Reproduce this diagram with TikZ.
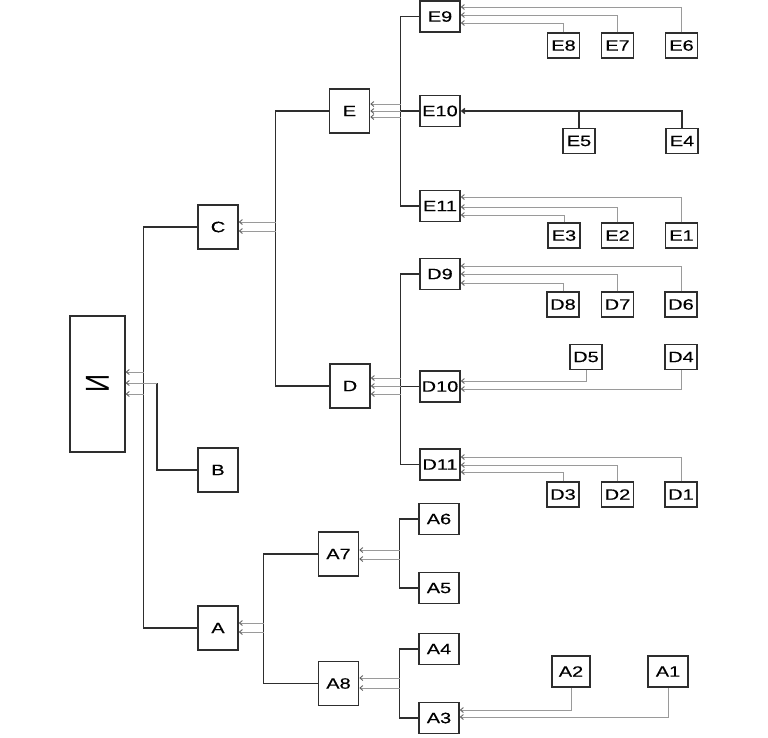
\documentclass[tikz,border=0pt]{standalone}
\usepackage{fontspec}
\setmainfont{Liberation Sans}[FakeStretch=1.33,FakeBold=0.4]
\newfontfamily\rootfont{Liberation Sans}
\usetikzlibrary{arrows.meta}
\definecolor{khung}{HTML}{2E2E2E}
\definecolor{mui}{HTML}{9A9A9A}

\begin{document}
\begin{tikzpicture}[x=1pt,y=-1pt,
    hop/.style={draw=khung,line width=1.5pt,fill=white,inner sep=0pt,
      minimum width=40pt,minimum height=31pt,font=\fontsize{15}{15}\selectfont},
    hoplon/.style={hop,minimum height=44pt},
    hopnho/.style={hop,minimum width=32pt,minimum height=25pt},
    nhanh/.style={draw=khung,line width=1.5pt},
    ve/.style={draw=mui,line width=0.9pt,
      -{Straight Barb[length=3pt,width=5pt,color=khung!75]}},
    vedam/.style={nhanh,-{Straight Barb[length=3pt,width=5pt]}}]
  \useasboundingbox (0,0) rectangle (768,737);
  % goc
  \node[hop,line width=1.2pt,minimum width=55pt,minimum height=136pt] (I) at (97.5,384)
    {\scalebox{1.33}[1]{\rotatebox{90}{\rootfont\fontsize{25}{25}\selectfont И}}};
  \node[hoplon] (C) at (218,227) {C};
  \node[hoplon] (B) at (218,470) {B};
  \node[hoplon] (A) at (218,628) {A};
  \node[hoplon] (E) at (349.5,111) {E};
  \node[hoplon] (D) at (350,386) {D};
  \node[hoplon] (A7) at (338.5,554) {A7};
  \node[hoplon] (A8) at (338.5,683.5) {A8};
  % tang giua
  \foreach \n/\x/\y in {E9/440/16.5,E10/440/111,E11/440/206,D9/440/274,
      D10/440/386.5,D11/440/464.5,A6/439/519,A5/439/588,A4/439/649,A3/439/718}
    \node[hop] (\n) at (\x,\y) {\n};
  % la
  \foreach \n/\x/\y in {E8/563.5/45.5,E7/617.5/45.5,E6/681.5/45.5,E5/579/141,E4/682/141,
      E3/564/235.5,E2/617.5/235.5,E1/681.5/235.5,D8/563/304.5,D7/617.5/304.5,D6/681/304.5,
      D5/586/357,D4/681/357,D3/563/494.5,D2/617.5/494.5,D1/681/494.5}
    \node[hopnho] (\n) at (\x,\y) {\n};
  \node[hop,minimum width=38pt] (A2) at (571,671.5) {A2};
  \node[hop] (A1) at (668,671.5) {A1};

  % nhanh goc
  \draw[nhanh] (C.west) -- ++(-54,0) |- (A.west);
  \coordinate (bB) at (157,383);
  \draw[nhanh] (B.west) -| (bB);
  \draw[ve] (144,372) -- (I.east |- 144,372);
  \draw[ve] (bB) -- (I.east |- bB);
  \draw[ve] (144,394) -- (I.east |- 144,394);
  % nhanh C
  \draw[nhanh] (E.west) -- ++(-53.5,0) |- (D.west);
  \draw[ve] (276,222) -- (C.east |- 276,222);
  \draw[ve] (276,231) -- (C.east |- 276,231);
  % nhanh E
  \draw[nhanh] (E9.west) -- ++(-19,0) |- (E11.west);
  \draw[nhanh] (E10.west) -- ++(-19,0);
  \draw[ve] (401,104) -- (E.east |- 401,104);
  \draw[ve] (401,111) -- (E.east |- 401,111);
  \draw[ve] (401,117) -- (E.east |- 401,117);
  \draw[ve] (E6.north) |- (E9.east |- 0,7);
  \draw[ve] (E7.north) |- (E9.east |- 0,15);
  \draw[ve] (E8.north) |- (E9.east |- 0,23);
  \draw[vedam] (E4.north) |- (E10.east);
  \draw[nhanh] (E5.north) -- (E5.north |- E10.east);
  \draw[ve] (E1.north) |- (E11.east |- 0,197);
  \draw[ve] (E2.north) |- (E11.east |- 0,207);
  \draw[ve] (E3.north) |- (E11.east |- 0,215);
  % nhanh D
  \draw[nhanh] (D9.west) -- ++(-19,0) |- (D11.west);
  \draw[nhanh] (D10.west) -- ++(-19,0);
  \draw[ve] (401,378) -- (D.east |- 401,378);
  \draw[ve] (401,386) -- (D.east |- 401,386);
  \draw[ve] (401,394) -- (D.east |- 401,394);
  \draw[ve] (D6.north) |- (D9.east |- 0,266);
  \draw[ve] (D7.north) |- (D9.east |- 0,274);
  \draw[ve] (D8.north) |- (D9.east |- 0,283);
  \draw[ve] (D5.south) |- (D10.east |- 0,381);
  \draw[ve] (D4.south) |- (D10.east |- 0,389);
  \draw[ve] (D1.north) |- (D11.east |- 0,457);
  \draw[ve] (D2.north) |- (D11.east |- 0,465);
  \draw[ve] (D3.north) |- (D11.east |- 0,472);
  % nhanh A
  \draw[nhanh] (A7.west) -- ++(-54.5,0) |- (A8.west);
  \draw[ve] (264,623) -- (A.east |- 264,623);
  \draw[ve] (264,632) -- (A.east |- 264,632);
  \draw[nhanh] (A6.west) -- ++(-19,0) |- (A5.west);
  \draw[ve] (400,550) -- (A7.east |- 400,550);
  \draw[ve] (400,559) -- (A7.east |- 400,559);
  \draw[nhanh] (A4.west) -- ++(-19,0) |- (A3.west);
  \draw[ve] (400,678) -- (A8.east |- 400,678);
  \draw[ve] (400,688) -- (A8.east |- 400,688);
  \draw[ve] (A2.south) |- (A3.east |- 0,710);
  \draw[ve] (A1.south) |- (A3.east |- 0,717);
\end{tikzpicture}
\end{document}
